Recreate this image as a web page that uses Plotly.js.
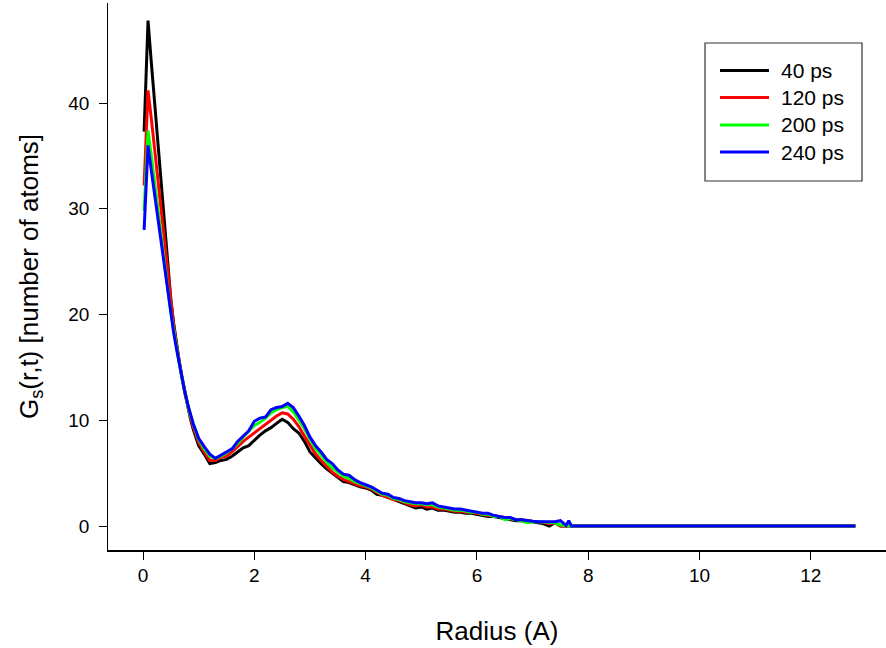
<!DOCTYPE html>
<html>
<head>
<meta charset="utf-8">
<script src="https://cdn.plot.ly/plotly-3.0.1.min.js"></script>
<style>html,body{margin:0;padding:0;background:#fff;}#chart{width:886px;height:648px;}</style>
</head>
<body>
<div id="chart"></div>
<script>
// Radius (A)
const radius = [0.02, 0.09, 0.15, 0.2, 0.25, 0.3, 0.35, 0.4, 0.45, 0.5, 0.55, 0.6, 0.65, 0.7, 0.75, 0.8, 0.85, 0.9, 0.95, 1.0,
  1.1, 1.2, 1.3, 1.4, 1.5, 1.6, 1.7, 1.8, 1.9, 2.0, 2.1, 2.2, 2.3, 2.4, 2.5, 2.6, 2.7, 2.8, 2.9, 3.0,
  3.1, 3.2, 3.3, 3.4, 3.5, 3.6, 3.7, 3.8, 3.9, 4.0, 4.1, 4.2, 4.3, 4.4, 4.5, 4.6, 4.7, 4.8, 4.9, 5.0,
  5.1, 5.2, 5.3, 5.4, 5.5, 5.6, 5.7, 5.8, 5.9, 6.0, 6.1, 6.2, 6.3, 6.4, 6.5, 6.6, 6.7, 6.8, 6.9, 7.0,
  7.1, 7.2, 7.3, 7.4, 7.5, 7.6, 7.65, 7.7, 7.8, 12.8];

const g40 = [37.3, 47.8, 43.8, 40.6, 37.3, 34.0, 30.7, 27.4, 24.3, 21.4, 19.2, 17.3, 15.6, 14.1, 12.7, 11.4, 10.2, 9.2, 8.3, 7.6,
  6.8, 5.9, 6.0, 6.2, 6.3, 6.6, 7.0, 7.4, 7.6, 8.1, 8.6, 9.0, 9.3, 9.7, 10.1, 9.8, 9.2, 8.8, 8.0, 7.0,
  6.4, 5.9, 5.4, 5.0, 4.6, 4.2, 4.1, 3.9, 3.7, 3.6, 3.4, 3.0, 2.9, 2.7, 2.5, 2.3, 2.1, 1.9, 1.7, 1.8,
  1.6, 1.7, 1.5, 1.5, 1.4, 1.3, 1.3, 1.2, 1.2, 1.1, 1.0, 0.9, 0.9, 0.8, 0.7, 0.6, 0.5, 0.5, 0.4, 0.4,
  0.3, 0.2, 0.0, 0.3, 0.0, 0.0, 0.0, 0.0, 0.0, 0.0];

const g120 = [32.2, 41.2, 38.5, 36.0, 33.4, 31.0, 28.5, 26.0, 23.4, 21.0, 19.0, 17.2, 15.5, 14.0, 12.6, 11.4, 10.3, 9.4, 8.6, 7.9,
  7.0, 6.2, 6.2, 6.5, 6.6, 7.0, 7.5, 8.0, 8.4, 8.8, 9.2, 9.6, 10.0, 10.4, 10.7, 10.6, 10.1, 9.4, 8.5, 7.6,
  6.8, 6.2, 5.6, 5.1, 4.7, 4.4, 4.2, 4.0, 3.8, 3.7, 3.5, 3.2, 2.9, 2.7, 2.5, 2.4, 2.2, 2.0, 1.9, 2.0,
  1.8, 1.8, 1.6, 1.6, 1.5, 1.4, 1.4, 1.3, 1.3, 1.2, 1.1, 1.0, 1.0, 0.9, 0.8, 0.7, 0.6, 0.6, 0.5, 0.45,
  0.4, 0.35, 0.2, 0.3, 0.0, 0.0, 0.0, 0.0, 0.0, 0.0];

const g200 = [29.8, 37.4, 35.0, 32.8, 30.6, 28.5, 26.4, 24.3, 22.2, 20.2, 18.5, 17.0, 15.4, 14.0, 12.7, 11.5, 10.5, 9.6, 8.9, 8.2,
  7.3, 6.6, 6.4, 6.6, 6.9, 7.3, 7.8, 8.4, 9.0, 9.5, 9.8, 10.2, 10.7, 11.0, 11.2, 11.3, 10.8, 10.0, 9.2, 8.2,
  7.3, 6.7, 6.0, 5.5, 5.1, 4.7, 4.5, 4.2, 4.0, 3.8, 3.6, 3.3, 3.0, 2.9, 2.6, 2.5, 2.3, 2.2, 2.1, 2.1,
  2.0, 2.0, 1.8, 1.7, 1.6, 1.5, 1.5, 1.4, 1.3, 1.3, 1.1, 1.1, 0.9, 0.9, 0.6, 0.7, 0.6, 0.5, 0.3, 0.4,
  0.4, 0.35, 0.3, 0.3, 0.1, 0.0, 0.0, 0.0, 0.0, 0.0];

const g240 = [28.0, 36.0, 33.6, 31.7, 29.7, 27.8, 25.8, 24.0, 21.8, 20.0, 18.3, 16.8, 15.3, 13.9, 12.7, 11.6, 10.6, 9.7, 9.0, 8.3,
  7.5, 6.8, 6.4, 6.7, 7.0, 7.3, 8.0, 8.5, 9.0, 9.9, 10.2, 10.3, 11.0, 11.2, 11.3, 11.6, 11.2, 10.4, 9.5, 8.4,
  7.6, 7.0, 6.3, 5.9, 5.3, 4.9, 4.8, 4.4, 4.1, 3.9, 3.7, 3.4, 3.1, 3.0, 2.7, 2.6, 2.4, 2.3, 2.2, 2.2,
  2.1, 2.2, 1.9, 1.8, 1.7, 1.6, 1.6, 1.5, 1.4, 1.3, 1.2, 1.2, 1.0, 0.9, 0.8, 0.8, 0.6, 0.6, 0.5, 0.45,
  0.4, 0.4, 0.4, 0.4, 0.5, 0.05, 0.5, 0.0, 0.0, 0.0];

const seriesNames = ['40 ps', '120 ps', '200 ps', '240 ps'];
const seriesValues = [g40, g120, g200, g240];
const seriesColors = ['#000000', '#ff0000', '#00ff00', '#0000ff'];

const xTicks = [0, 2, 4, 6, 8, 10, 12];
const yTicks = [0, 10, 20, 30, 40];

const traces = seriesValues.map((vals, i) => ({
  x: radius, y: vals, type: 'scatter', mode: 'lines', name: seriesNames[i],
  showlegend: false,
  line: {color: seriesColors[i], width: 3}
}));

const fam = 'Liberation Sans, Arial, sans-serif';

// plot area in pixels, used to place the legend box in paper coordinates
const W = 886, H = 648, mL = 108, mR = 0, mT = 3, mB = 98;
const pw = W - mL - mR, ph = H - mT - mB;
const px = v => (v - mL) / pw;
const py = v => (H - mB - v) / ph;

const shapes = [{
  type: 'rect', xref: 'paper', yref: 'paper',
  x0: px(705), x1: px(862), y0: py(181), y1: py(43),
  line: {color: '#333', width: 1.2}, fillcolor: '#fff', layer: 'above'
}];
const annotations = [];
const rowY = [70.5, 97.5, 125, 152];
seriesNames.forEach((name, i) => {
  shapes.push({
    type: 'line', xref: 'paper', yref: 'paper',
    x0: px(720), x1: px(769), y0: py(rowY[i]), y1: py(rowY[i]),
    line: {color: seriesColors[i], width: 3}, layer: 'above'
  });
  annotations.push({
    xref: 'paper', yref: 'paper', x: px(779), y: py(rowY[i]),
    xanchor: 'left', yanchor: 'middle', showarrow: false,
    text: name, font: {family: fam, size: 21, color: '#000'}
  });
});

const layout = {
  width: W, height: H,
  margin: {l: mL, r: mR, t: mT, b: mB},
  paper_bgcolor: '#fff', plot_bgcolor: '#fff',
  font: {family: fam, color: '#000'},
  showlegend: false,
  shapes: shapes,
  annotations: annotations,
  xaxis: {
    range: [-0.629, 13.35], tickvals: xTicks, ticktext: xTicks.map(String),
    showgrid: false, zeroline: false, showline: true, linecolor: '#000', linewidth: 1.5,
    ticks: 'outside', ticklen: 8, tickwidth: 1, tickcolor: '#000',
    tickfont: {family: fam, size: 19, color: '#000'},
    title: {text: 'Radius (A)', font: {family: fam, size: 26, color: '#000'}, standoff: 36}
  },
  yaxis: {
    range: [-2.27, 49.46], tickvals: yTicks, ticktext: yTicks.map(v => v + '\u00a0'),
    showgrid: false, zeroline: false, showline: true, linecolor: '#000', linewidth: 1.5,
    ticks: 'outside', ticklen: 8, tickwidth: 1, tickcolor: '#000',
    tickfont: {family: fam, size: 19, color: '#000'},
    title: {text: 'G<sub>s</sub>(r,t) [number of atoms]', font: {family: fam, size: 26, color: '#000'}, standoff: 22}
  }
};

Plotly.newPlot('chart', traces, layout, {displayModeBar: false, staticPlot: true});
</script>
</body>
</html>
